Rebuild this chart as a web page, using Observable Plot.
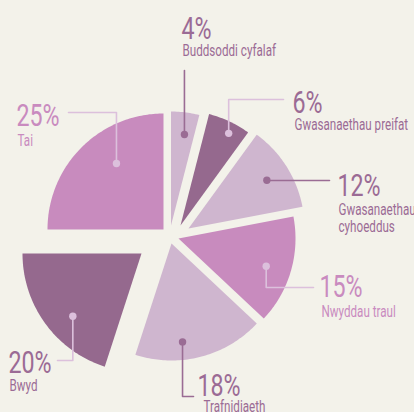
<!DOCTYPE html>
<html><head><meta charset="utf-8">
<script src="https://cdn.jsdelivr.net/npm/d3@7"></script>
<script src="https://cdn.jsdelivr.net/npm/@observablehq/plot@0.6"></script>
<style>
html,body{margin:0;padding:0;background:#f3f2ea;}
#chart{width:414px;height:412px;overflow:hidden;}
</style></head><body><div id="chart"></div>
<script>
// ---- data ----
const categories = ["Buddsoddi cyfalaf","Gwasanaethau preifat","Gwasanaethau cyhoeddus","Nwyddau traul","Trafnidiaeth","Bwyd","Tai"];
const values = [4, 6, 12, 15, 18, 20, 25];
const pctLabels = ["4%","6%","12%","15%","18%","20%","25%"];
const nameLines = [["Buddsoddi cyfalaf"],["Gwasanaethau preifat"],["Gwasanaethau","cyhoeddus"],["Nwyddau traul"],["Trafnidiaeth"],["Bwyd"],["Tai"]];

// ---- layout & style ----
const W = 414, H = 412;
const center = [169, 234];
const radius = [114, 115, 116, 117, 117, 119, 116];
const shift = [[1.5,-9],[11,-9],[19,-6],[9,4],[2,9],[-28,19],[-6,-5]];
const DARK = "#95698e", PINK = "#c88bbe", LIGHT = "#cfb6cf";
const sliceColor = [LIGHT, DARK, LIGHT, PINK, LIGHT, DARK, PINK];
const leaderColor = ["#9a6c94","#dcc0dc","#9a6c94","#dcc0dc","#9a6c94","#dcc0dc","#dcc0dc"];
const textColor = ["#9b6b95","#9b6b95","#9b6b95","#c98bbf","#9b6b95","#9b6b95","#c98bbf"];
const dotAngle = [8.4, 27.6, 58.4, 107.6, 173.6, 227.6, 324.5];
const dotRadius = [92, 104, 92, 92, 99, 93, 81];
const leaderEnd = [[184,70],[283,99],[329,180],[313,287],[193,396],[57,360],[68,112]];
const pctPos = [[181,38],[292,112],[337,195],[319,296],[197,395],[8,372],[16,125]];
const nameX = [182, 294, 338, 321, 203, 9, 17];
const nameBase = [[55],[129],[214,231],[316],[411],[390],[145]];
const FONT = "Roboto, 'Liberation Sans', sans-serif";
const SQUEEZE_PCT = 0.75, SQUEEZE_NAME = 0.685;

// ---- geometry from values ----
const total = d3.sum(values);
const rad = d => d * Math.PI / 180;
const slicePts = [], dots = [], leaders = [], pcts = [], names = [];
let cum = 0;
values.forEach((v, i) => {
  const a0 = cum / total * 2 * Math.PI; cum += v;
  const a1 = cum / total * 2 * Math.PI;
  const ox = center[0] + shift[i][0], oy = center[1] + shift[i][1];
  const R = radius[i], color = sliceColor[i];
  slicePts.push({id: i, x: ox, y: oy, color});
  const n = Math.max(2, Math.ceil((a1 - a0) / rad(1)));
  for (let k = 0; k <= n; k++) {
    const a = a0 + (a1 - a0) * k / n;
    slicePts.push({id: i, x: ox + R * Math.sin(a), y: oy - R * Math.cos(a), color});
  }
  slicePts.push({id: i, x: ox, y: oy, color});
  const da = rad(dotAngle[i]);
  const dx = ox + dotRadius[i] * Math.sin(da), dy = oy - dotRadius[i] * Math.cos(da);
  dots.push({x: dx, y: dy, color: leaderColor[i]});
  const [ex, ey] = leaderEnd[i];
  [[dx, dy], [dx, ey], [ex, ey]].forEach(([x, y]) => leaders.push({id: i, x, y, color: leaderColor[i]}));
  pcts.push({x: pctPos[i][0], y: pctPos[i][1], text: pctLabels[i], color: textColor[i]});
  nameLines[i].forEach((t, j) => names.push({x: nameX[i], y: nameBase[i][j], text: t, color: textColor[i]}));
});

const plot = Plot.plot({
  width: W, height: H, margin: 0,
  x: {domain: [0, W], range: [0, W], axis: null},
  y: {domain: [0, H], range: [0, H], axis: null},
  color: {type: "identity"},
  style: {background: "#f3f2ea", fontFamily: FONT},
  marks: [
    Plot.line(slicePts, {x: "x", y: "y", z: "id", fill: "color", stroke: "none", curve: "linear"}),
    Plot.line(leaders, {x: "x", y: "y", z: "id", stroke: "color", strokeWidth: 1.6, curve: "linear"}),
    Plot.dot(dots, {x: "x", y: "y", r: 3.7, fill: "color", stroke: "none"}),
    Plot.text(pcts, {x: "x", y: "y", text: "text", fill: "color", fontSize: 31, textAnchor: "start", lineAnchor: "bottom"}),
    Plot.text(names, {x: "x", y: "y", text: "text", fill: "color", fontSize: 17, textAnchor: "start", lineAnchor: "bottom"})
  ]
});
const textGroups = d3.select(plot).selectAll('g[aria-label="text"]').nodes();
[SQUEEZE_PCT, SQUEEZE_NAME].forEach((s, gi) => {
  if (!textGroups[gi]) return;
  d3.select(textGroups[gi]).selectAll("text").each(function () {
    const t = this.getAttribute("transform");
    if (t) this.setAttribute("transform", t + ` scale(${s},1)`);
  });
});
document.getElementById("chart").appendChild(plot);
</script>
</body></html>
